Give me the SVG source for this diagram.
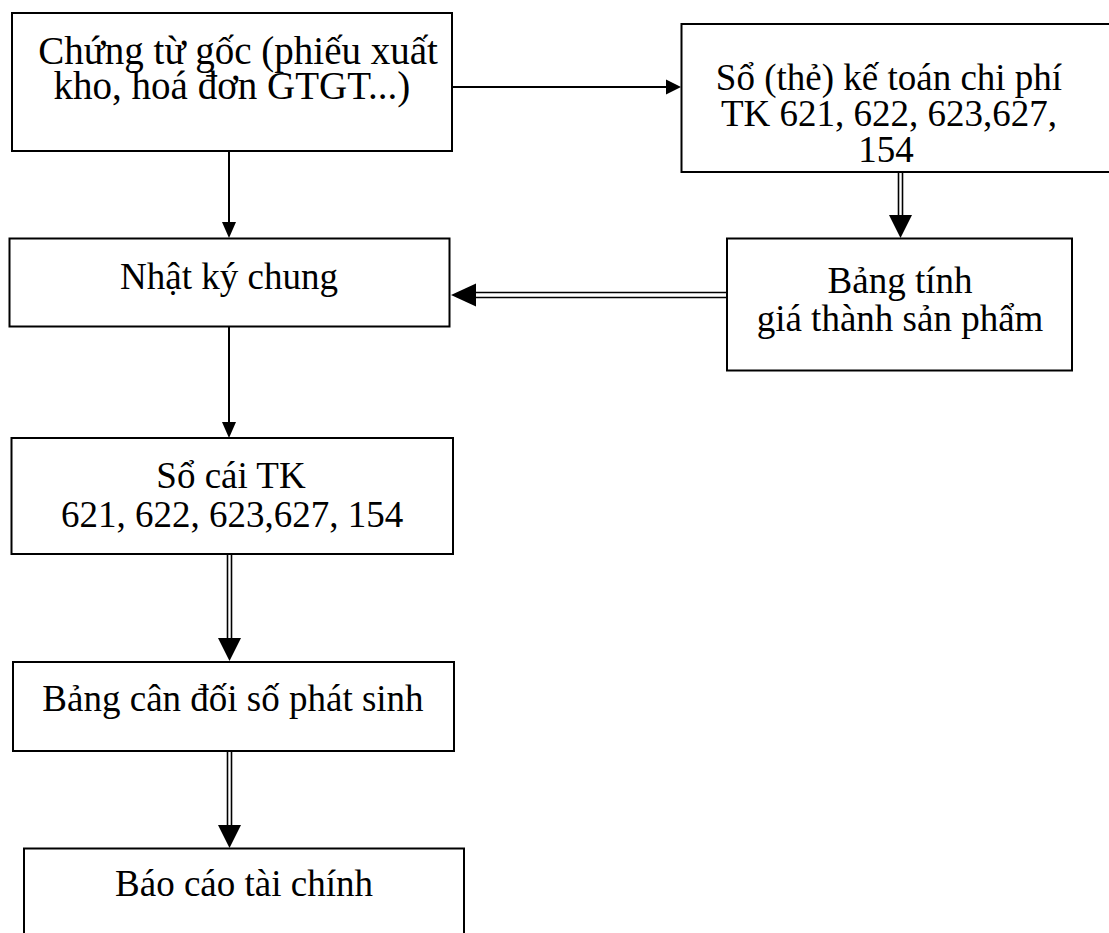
<svg xmlns="http://www.w3.org/2000/svg" width="1109" height="933" viewBox="0 0 1109 933">
<style>
.box{fill:#fff;stroke:#000;stroke-width:2}
.t{font-family:"Liberation Serif","Times New Roman",serif;font-size:37px;fill:#000;text-anchor:middle}
.big{font-size:39px}
.ln{stroke:#000;stroke-width:2;fill:none}
.dl{stroke:#000;stroke-width:1.6;fill:none}
.hd{fill:#000;stroke:none}
</style>
<rect width="1109" height="933" fill="#fff"/>
<g id="connectors">
<line class="ln" x1="452" y1="87" x2="667" y2="87"/>
<polygon class="hd" points="681,87 666,79.5 666,94.5"/>
<line class="ln" x1="229" y1="151" x2="229" y2="223"/>
<polygon class="hd" points="229,238 222,222 236,222"/>
<line class="ln" x1="229" y1="327" x2="229" y2="423"/>
<polygon class="hd" points="229,438 222,422 236,422"/>
<line class="dl" x1="898.5" y1="172" x2="898.5" y2="216"/>
<line class="dl" x1="902.5" y1="172" x2="902.5" y2="216"/>
<polygon class="hd" points="900.5,238 889,215 912,215"/>
<line class="dl" x1="727" y1="292.5" x2="475" y2="292.5"/>
<line class="dl" x1="727" y1="297.5" x2="475" y2="297.5"/>
<polygon class="hd" points="451,295 476,283.5 476,306.5"/>
<line class="dl" x1="227.5" y1="554" x2="227.5" y2="639"/>
<line class="dl" x1="231.5" y1="554" x2="231.5" y2="639"/>
<polygon class="hd" points="229.5,661 218,638 241,638"/>
<line class="dl" x1="227.5" y1="751" x2="227.5" y2="826"/>
<line class="dl" x1="231.5" y1="751" x2="231.5" y2="826"/>
<polygon class="hd" points="229.5,848 218,825 241,825"/>
</g>
<g id="n1">
<rect class="box" x="12" y="13" width="440" height="138"/>
<text class="t big" x="238" y="64">Chứng từ gốc (phiếu xuất</text>
<text class="t big" x="232" y="99">kho, hoá đơn GTGT...)</text>
</g>
<g id="n2">
<rect class="box" x="681.5" y="24" width="440" height="148"/>
<text class="t" x="889" y="90">Sổ (thẻ) kế toán chi phí</text>
<text class="t" x="889" y="126">TK 621, 622, 623,627,</text>
<text class="t" x="886" y="162">154</text>
</g>
<g id="n3">
<rect class="box" x="9.5" y="238.5" width="440" height="88"/>
<text class="t" x="229" y="289">Nhật ký chung</text>
</g>
<g id="n4">
<rect class="box" x="727" y="238.5" width="345" height="132"/>
<text class="t" x="900" y="293">Bảng tính</text>
<text class="t" x="900" y="331">giá thành sản phẩm</text>
</g>
<g id="n5">
<rect class="box" x="11.5" y="438" width="441.5" height="116"/>
<text class="t" x="231" y="488">Sổ cái TK</text>
<text class="t" x="232" y="527">621, 622, 623,627, 154</text>
</g>
<g id="n6">
<rect class="box" x="13" y="662" width="441" height="89"/>
<text class="t" x="233" y="711">Bảng cân đối số phát sinh</text>
</g>
<g id="n7">
<rect class="box" x="24" y="848.5" width="440" height="120"/>
<text class="t" x="244" y="896">Báo cáo tài chính</text>
</g>
</svg>
